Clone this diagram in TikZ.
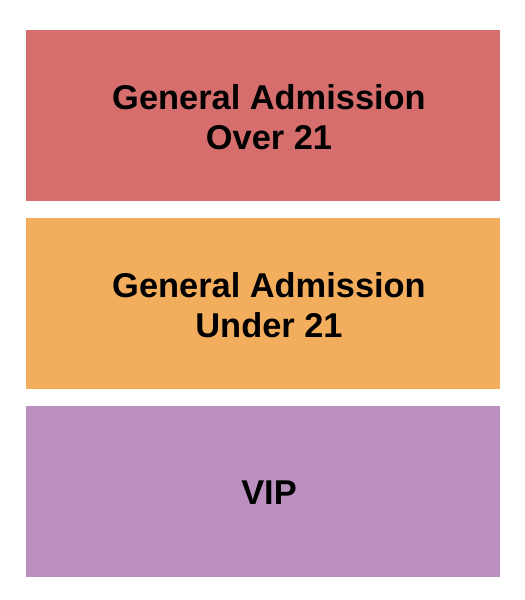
\documentclass[tikz,border=0pt]{standalone}
\usepackage{fontspec}
\setmainfont{Liberation Sans}
\definecolor{overred}{HTML}{D76E6E}
\definecolor{underorange}{HTML}{F2AE5C}
\definecolor{vippurple}{HTML}{BB90C1}
\tikzset{
	section/.style={draw=none, minimum width=474pt, minimum height=171pt, inner sep=0pt},
	sectionlabel/.style={inner sep=0pt, align=center, font=\bfseries\fontsize{34.4}{40}\selectfont}
}
\begin{document}
\begin{tikzpicture}[x=1pt, y=-1pt]
			%%%%% START %%%%%
			
			\useasboundingbox[fill=white] (0, 0) rectangle (525, 600);
			
			\node[section, fill=overred] (over) at (263, 115.5) {};
			\node[section, fill=underorange] (under) at (263, 303.5) {};
			\node[section, fill=vippurple] (vip) at (263, 491.5) {};
			
			\node[sectionlabel] (overtext) at ([xshift=6pt, yshift=-1.5pt]over.center) {General Admission\\Over 21};
			\node[sectionlabel] (undertext) at ([xshift=6pt, yshift=-1.5pt]under.center) {General Admission\\Under 21};
			\node[sectionlabel] (viptext) at ([xshift=6pt, yshift=-1.5pt]vip.center) {VIP};
			
			%%%%% END %%%%%
		\end{tikzpicture}
\end{document}
